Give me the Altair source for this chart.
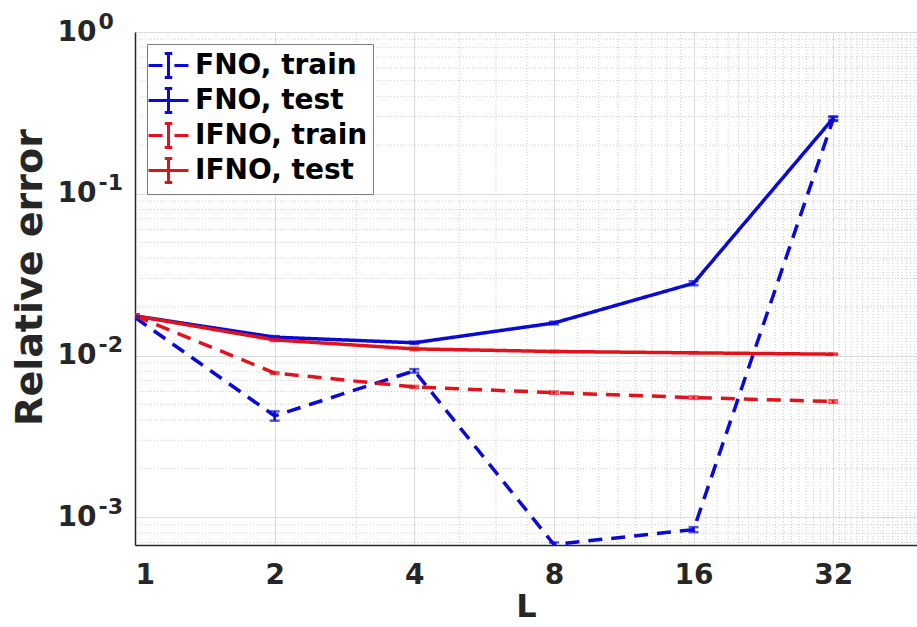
import altair as alt
import pandas as pd

L_values = [1, 2, 4, 8, 16, 32]
series_names = ["FNO, train", "FNO, test", "IFNO, train", "IFNO, test"]

fno_train = [0.0172, 0.00424, 0.00805, 0.00068, 0.00084, 0.290]
fno_test = [0.0176, 0.0130, 0.0120, 0.0159, 0.0280, 0.293]
ifno_train = [0.0176, 0.0078, 0.0064, 0.0059, 0.0055, 0.0052]
ifno_test = [0.0176, 0.0125, 0.0110, 0.0106, 0.0104, 0.0102]

fno_train_err = [0.0003, 0.00028, 0.0002, 0.00002, 0.00003, 0.008]
fno_test_err = [0.0003, 0.0002, 0.0002, 0.0003, 0.0008, 0.008]
ifno_train_err = [0.0003, 0.0001, 0.0001, 0.0001, 0.0001, 0.0001]
ifno_test_err = [0.0003, 0.0002, 0.0002, 0.0001, 0.0001, 0.0001]

x_ticks = [1, 2, 4, 8, 16, 32]
x_minor = [3, 5, 6, 7] + list(range(9, 16)) + list(range(17, 32)) + list(range(33, 49))
y_ticks = [0.001, 0.01, 0.1, 1]
y_exponents = ["0", "-1", "-2", "-3"]
y_minor = [0.0007, 0.0008, 0.0009] + [k * 1e-3 for k in range(2, 10)] + \
          [k * 1e-2 for k in range(2, 10)] + [k * 1e-1 for k in range(2, 10)]

rows = []
for name, vals, errs in zip(series_names,
                            [fno_train, fno_test, ifno_train, ifno_test],
                            [fno_train_err, fno_test_err, ifno_train_err, ifno_test_err]):
    for L, v, e in zip(L_values, vals, errs):
        rows.append({"L": L, "value": v, "lo": v - e, "hi": v + e, "series": name})
df = pd.DataFrame(rows)

FONT = "DejaVu Sans"
TXT = "#262626"
colors = ["#0a0ad8", "#0a0ad8", "#e3121a", "#e3121a"]
dashes = [[14, 9], [1, 0], [14, 9], [1, 0]]

xscale = alt.Scale(type="log", base=2, domain=[1, 48.5], nice=False)
yscale = alt.Scale(type="log", domain=[0.000675, 1], nice=False)

color_enc = alt.Color("series:N", scale=alt.Scale(domain=series_names, range=colors),
                      legend=alt.Legend(title=None))
dash_enc = alt.StrokeDash("series:N", scale=alt.Scale(domain=series_names, range=dashes),
                          legend=alt.Legend(title=None))
color_nolegend = alt.Color("series:N", scale=alt.Scale(domain=series_names, range=colors), legend=None)

xminor_df = pd.DataFrame({"v": x_minor})
yminor_df = pd.DataFrame({"v": y_minor})

exp_expr = "{} [-round(log(datum.value)/LN10)]".format(str(y_exponents).replace("'", '"'))

vgrid = alt.Chart(xminor_df).mark_rule(color="#cccccc", strokeDash=[1, 2], strokeWidth=1).encode(
    x=alt.X("v:Q", scale=xscale))
hgrid = alt.Chart(yminor_df).mark_rule(color="#cccccc", strokeDash=[1, 2], strokeWidth=1).encode(
    y=alt.Y("v:Q", scale=yscale,
            axis=alt.Axis(values=y_ticks, title=None, grid=False, ticks=False, domain=False,
                          orient="left", labelAlign="left", labelPadding=37, labelOffset=-11,
                          labelFontSize=22, labelExpr=exp_expr)))

base = alt.Chart(df)

lines = base.mark_line(strokeWidth=3.5, clip=True).encode(
    x=alt.X("L:Q", scale=xscale,
            axis=alt.Axis(values=x_ticks, format="d", title="L", grid=True, ticks=False,
                          gridColor="#dcdcdc", labelPadding=16, titlePadding=2,
                          titleFontSize=32)),
    y=alt.Y("value:Q", scale=yscale,
            axis=alt.Axis(values=y_ticks, title="Relative error", grid=True, ticks=False,
                          orient="left", gridColor="#dcdcdc", labelPadding=39,
                          titlePadding=8, titleY=245, labelExpr="'10'")),
    color=color_enc,
    strokeDash=dash_enc,
    order=alt.Order("L:Q"),
)

bars = base.mark_rule(strokeWidth=2.5, clip=True).encode(
    x="L:Q", y=alt.Y("lo:Q", axis=None), y2="hi:Q", color=color_nolegend)
cap_lo = base.mark_tick(orient="horizontal", size=10, thickness=2.5, clip=True).encode(
    x="L:Q", y=alt.Y("lo:Q", axis=None), color=color_nolegend)
cap_hi = base.mark_tick(orient="horizontal", size=10, thickness=2.5, clip=True).encode(
    x="L:Q", y=alt.Y("hi:Q", axis=None), color=color_nolegend)

chart = alt.layer(vgrid, hgrid, lines, bars, cap_lo, cap_hi).resolve_axis(
    y="independent"
).properties(
    width=782, height=513,
    autosize=alt.AutoSizeParams(type="none"),
    padding={"left": 135, "top": 32, "right": 0, "bottom": 82},
).configure_view(
    stroke="#a0a0a0", strokeWidth=1
).configure_axis(
    labelFont=FONT, titleFont=FONT, labelFontWeight="bold", titleFontWeight="bold",
    labelColor=TXT, titleColor=TXT, domainColor=TXT, domainWidth=1.5,
    labelFontSize=28, titleFontSize=34,
).configure_axisY(
    titleFontSize=38,
).configure_legend(
    orient="top-left", offset=12, padding=5, fillColor="white", strokeColor="#7a7a7a",
    labelFont=FONT, labelFontWeight="bold", labelFontSize=28, labelColor="black",
    labelLimit=500,
    symbolType="M-1.33,0H0M1.33,0H0M0,-0.8V0M0,0.8V0M-0.25,-0.8H0.25M-0.25,0.8H0.25",
    symbolSize=900, symbolStrokeWidth=3, rowPadding=-2, labelOffset=10,
    cornerRadius=0,
)

chart.save("out.html", embed_options={"renderer": "svg", "actions": False})
